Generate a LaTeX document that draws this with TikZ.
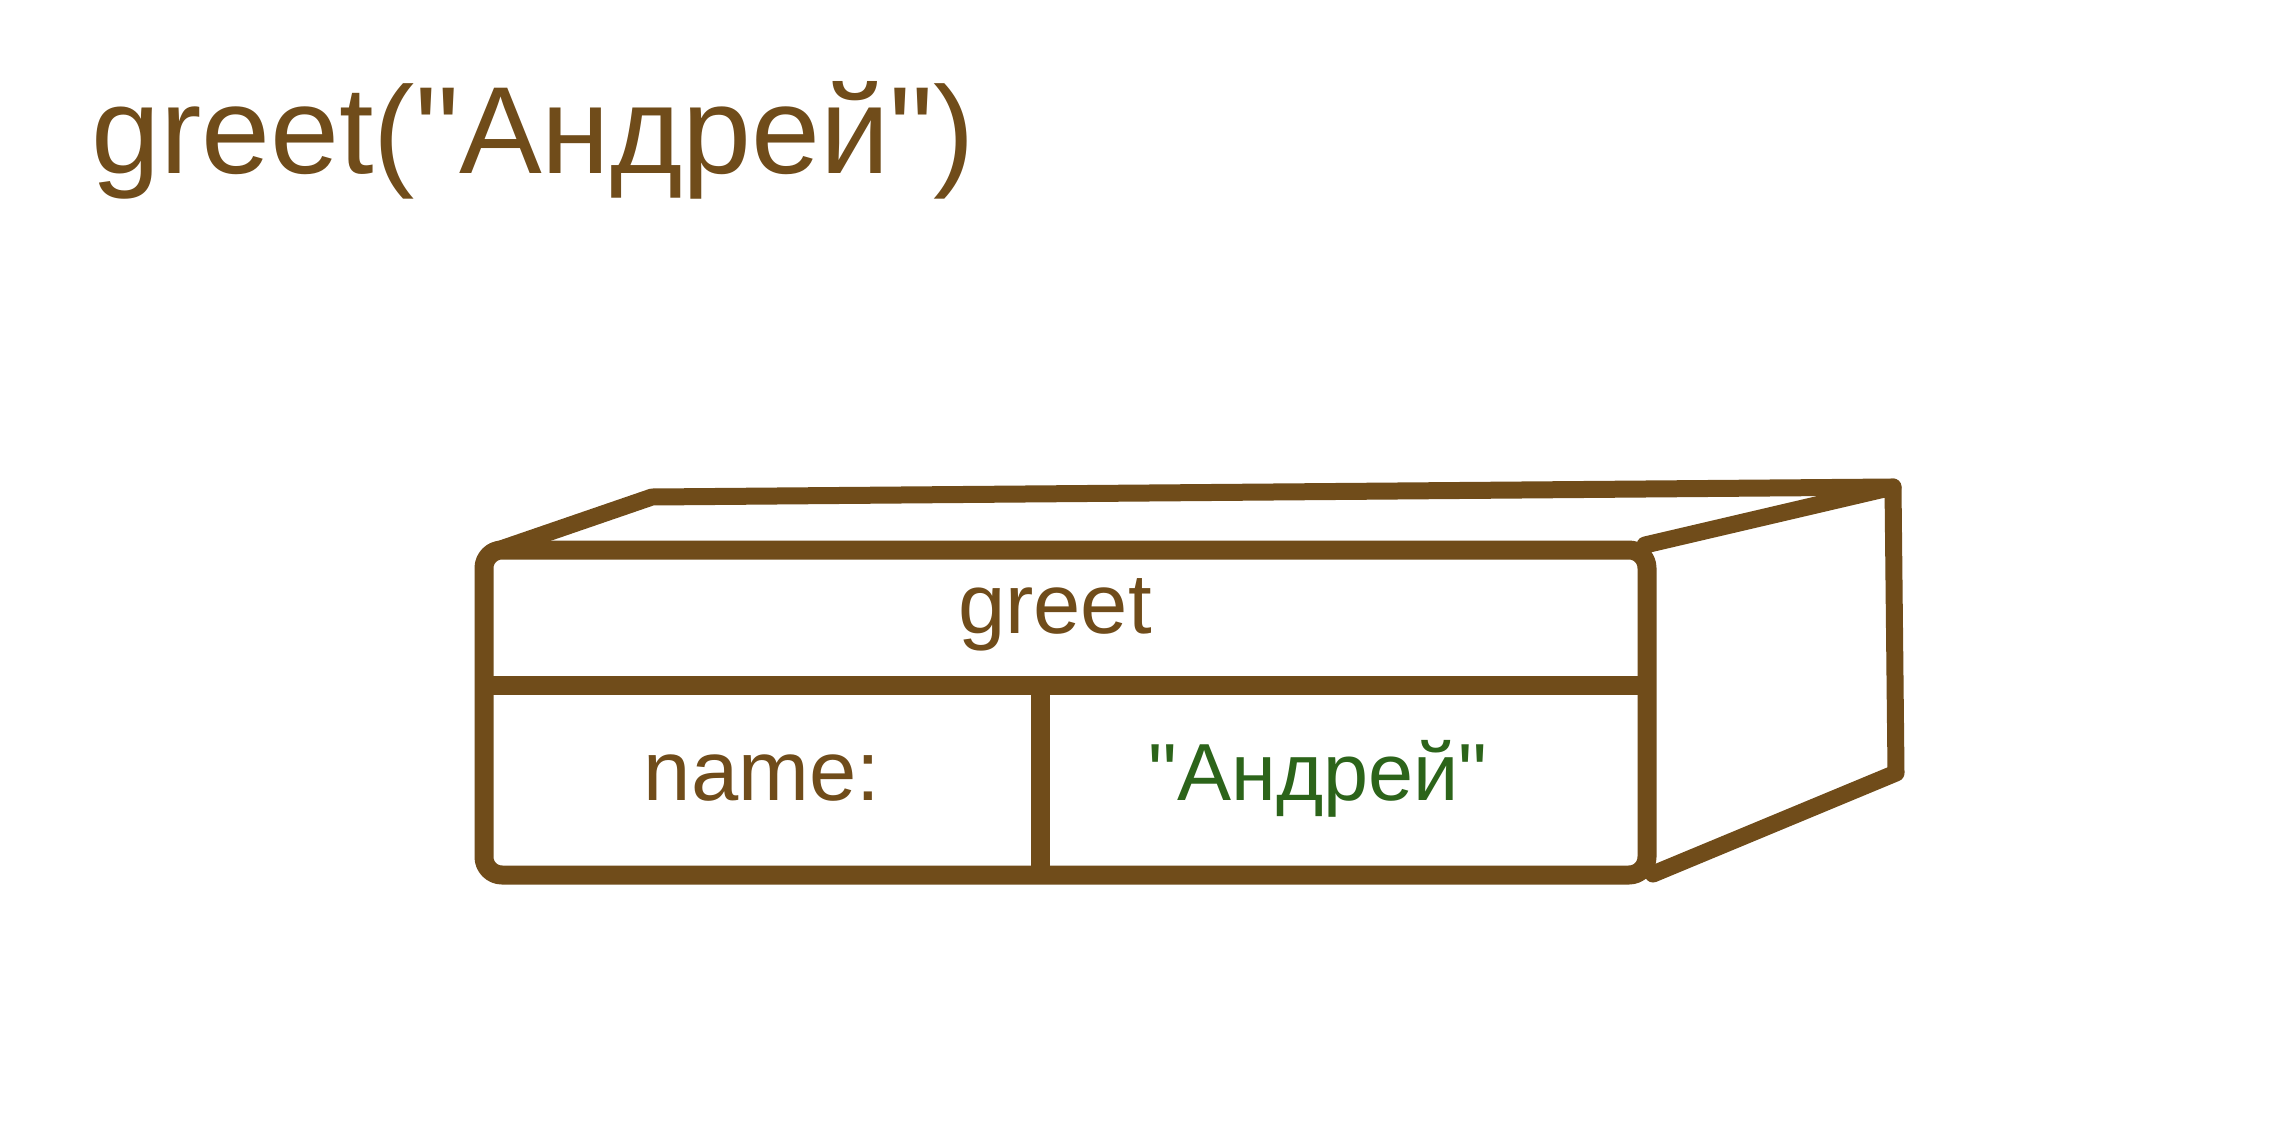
\documentclass[tikz,border=0pt]{standalone}
\usepackage{fontspec}
\newfontfamily\lsans{Liberation Sans}
\definecolor{boxbrown}{RGB}{112,76,26}
\definecolor{strgreen}{RGB}{44,100,26}
\begin{document}
\begin{tikzpicture}[x=1pt,y=-1pt,
  frontline/.style={draw=boxbrown,line width=19pt,line cap=round,line join=round},
  backline/.style={draw=boxbrown,line width=17pt,line cap=round,line join=round},
  titletext/.style={inner sep=0pt,text=boxbrown,font=\lsans\fontsize{124}{150}\selectfont},
  celltext/.style={inner sep=0pt,font=\lsans\fontsize{85}{100}\selectfont}]
\useasboundingbox[fill=white] (0,0) rectangle (2294,1130);
% title
\node[titletext,anchor=base west] (title) at (91,173) {greet("Андрей")};
% back wireframe
\coordinate (ftl) at (492,552);
\coordinate (btl) at (652,497);
\coordinate (btr) at (1893,487);
\coordinate (ftr) at (1645,545);
\coordinate (bbr) at (1896,773);
\coordinate (fbr) at (1653,874);
\draw[backline] (ftl) -- (btl) -- (btr);
\draw[backline] (ftr) -- (btr) -- (bbr) -- (fbr);
% front box
\draw[frontline,fill=white,rounded corners=18pt] (484,550) rectangle (1647,875);
\draw[frontline,line cap=butt] (484,685) -- (1647,685);
\draw[frontline,line cap=butt] (1040,685) -- (1040,875);
% texts
\node[celltext,text=boxbrown,anchor=base] (fname) at (1055,633) {greet};
\node[celltext,text=boxbrown,anchor=base] (pname) at (762,800) {name:};
\node[celltext,text=strgreen,anchor=base,font=\lsans\fontsize{81}{100}\selectfont] (pval) at (1318,800) {"Андрей"};
\end{tikzpicture}
\end{document}
